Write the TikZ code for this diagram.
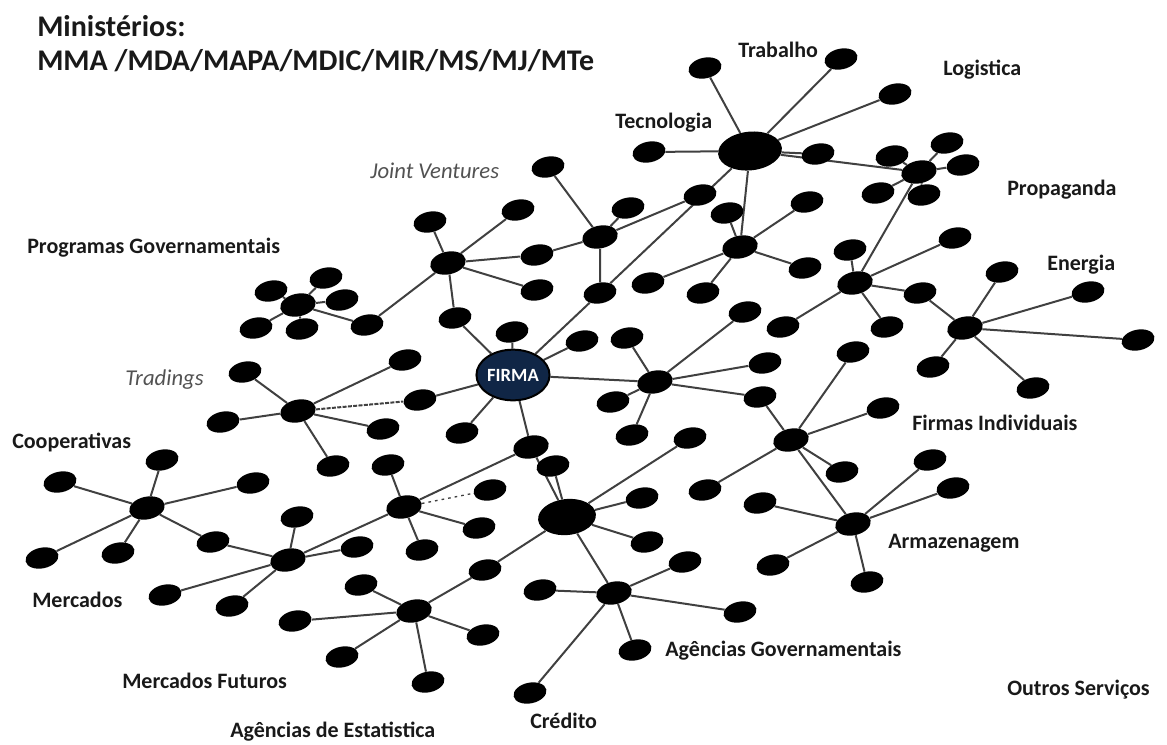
\documentclass[tikz,border=0pt]{standalone}
\usepackage{fontspec}
\setmainfont{Carlito}
\usetikzlibrary{shapes.geometric,backgrounds}

\definecolor{firmablue}{RGB}{16,38,70}
\tikzset{
  blob/.style={ellipse, fill=black, inner sep=0pt, minimum width=25pt, minimum height=15.5pt, rotate=12},
  hub/.style={blob, minimum width=27pt, minimum height=17pt},
  bighub/.style={ellipse, fill=black, inner sep=0pt, rotate=6},
  link/.style={draw=black!75, line width=1.5pt},
  lbl/.style={anchor=base west, inner sep=0pt, text=black!90, font=\bfseries\fontsize{16.5}{20}\selectfont},
  lblit/.style={lbl, text=black!68, font=\fontsize{17}{20}\selectfont\itshape},
}

\begin{document}
\begin{tikzpicture}[x=0.75pt,y=0.75pt,yscale=-1,xscale=1]
\useasboundingbox (0,0) rectangle (1167,744);

%Tecnologia
\node[bighub, minimum width=48pt, minimum height=29pt] (tec) at (750,151) {};
\node[blob] (tec1) at (705,68) {};
\node[blob] (tec2) at (841,59) {};
\node[blob] (tec3) at (895,94) {};
\node[blob] (tec4) at (818,154) {};
\node[blob] (tec5) at (649,152) {};
%Propaganda
\node[hub] (prop) at (919,172) {};
\node[blob] (prop1) at (892,156) {};
\node[blob] (prop2) at (947,143) {};
\node[blob] (prop3) at (963,165) {};
\node[blob] (prop4) at (878,193) {};
\node[blob] (prop5) at (924,195) {};
%hub under Tecnologia
\node[hub] (jvb) at (740,247) {};
\node[blob] (jvb1) at (727,213) {};
\node[blob] (jvb2) at (807,202) {};
\node[blob] (jvb3) at (805,268) {};
\node[blob] (jvb4) at (648,283) {};
\node[blob] (jvb5) at (703,293) {};
%hub before Energia
\node[hub] (enb) at (855,283) {};
\node[blob] (enb1) at (850,250) {};
\node[blob] (enb2) at (955,238) {};
\node[blob] (enb3) at (887,327) {};
\node[blob] (enb4) at (783,327) {};
\node[blob] (enb5) at (920,293) {};
%Energia
\node[hub] (ene) at (965,328) {};
\node[blob] (ene1) at (1002,272) {};
\node[blob] (ene2) at (1088,292) {};
\node[blob] (ene3) at (1138,340) {};
\node[blob] (ene4) at (933,367) {};
\node[blob] (ene5) at (1033,388) {};
%Joint Ventures
\node[hub] (jv) at (600,237) {};
\node[blob] (jv1) at (548,167) {};
\node[blob] (jv2) at (628,208) {};
\node[blob] (jv3) at (700,195) {};
\node[blob] (jv4) at (537,255) {};
\node[blob] (jvc) at (600,293) {};
%Programas Governamentais
\node[hub] (gov) at (448,263) {};
\node[blob] (gov1) at (430,222) {};
\node[blob] (gov2) at (518,210) {};
\node[blob] (gov3) at (537,290) {};
\node[blob] (gov4) at (455,318) {};
\node[blob] (gov5) at (367,325) {};
\node[hub] (prg) at (298,305) {};
\node[blob] (prg1) at (271,291) {};
\node[blob] (prg2) at (326,278) {};
\node[blob] (prg3) at (342,300) {};
\node[blob] (prg4) at (256,328) {};
\node[blob] (prg5) at (302,329) {};
%FIRMA
\node[ellipse, draw=black, line width=1.5pt, fill=firmablue, inner sep=0pt, minimum width=51pt, minimum height=38pt, text=white, font=\bfseries\fontsize{14}{16}\selectfont] (firma) at (513,375) {FIRMA};
\node[blob] (fir1) at (512,332) {};
\node[blob] (fir2) at (582,341) {};
\node[blob] (fir3) at (420,400) {};
\node[blob] (fir4) at (462,433) {};
%Tradings
\node[hub] (trd) at (298,411) {};
\node[blob] (trd1) at (245,372) {};
\node[blob] (trd2) at (223,422) {};
\node[blob] (trd3) at (405,360) {};
\node[blob] (trd4) at (383,429) {};
\node[blob] (trd5) at (333,466) {};
%hub right of FIRMA
\node[hub] (fih) at (655,382) {};
\node[blob] (fih1) at (627,338) {};
\node[blob] (fih2) at (745,312) {};
\node[blob] (fih3) at (765,363) {};
\node[blob] (fih4) at (613,402) {};
\node[blob] (fih5) at (632,435) {};
\node[blob] (fih6) at (760,397) {};
%Firmas Individuais
\node[hub] (fi) at (791,440) {};
\node[blob] (fi1) at (853,352) {};
\node[blob] (fi2) at (883,408) {};
\node[blob] (fi3) at (842,472) {};
\node[blob] (fi4) at (705,490) {};
%Armazenagem
\node[hub] (arm) at (853,524) {};
\node[blob] (arm1) at (760,503) {};
\node[blob] (arm2) at (930,460) {};
\node[blob] (arm3) at (953,488) {};
\node[blob] (arm4) at (773,565) {};
\node[blob] (arm5) at (867,582) {};
%Credito
\node[hub] (fsub) at (531,447) {};
\node[blob] (fsub2) at (553,466) {};
\node[bighub, minimum width=43.5pt, minimum height=27pt] (crd) at (567,517) {};
\node[blob] (crd1) at (690,438) {};
\node[blob] (crd2) at (642,498) {};
\node[blob] (crd3) at (647,542) {};
\node[blob] (crd4) at (485,570) {};
%Agencias Governamentais
\node[hub] (age) at (614,593) {};
\node[blob] (age1) at (540,590) {};
\node[blob] (age2) at (685,562) {};
\node[blob] (age3) at (740,612) {};
\node[blob] (age4) at (635,650) {};
\node[blob] (age5) at (530,693) {};
%hub with dotted link
\node[hub] (mid) at (404,507) {};
\node[blob] (mid1) at (388,465) {};
\node[blob] (mid2) at (490,490) {};
\node[blob] (mid3) at (479,528) {};
\node[blob] (mid4) at (422,550) {};
%Mercados
\node[hub] (mer) at (288,560) {};
\node[blob] (mer1) at (297,517) {};
\node[blob] (mer2) at (357,547) {};
\node[blob] (mer3) at (165,595) {};
\node[blob] (mer4) at (232,606) {};
\node[blob] (mer5) at (213,542) {};
%Cooperativas
\node[hub] (coop) at (147,508) {};
\node[blob] (coop1) at (60,482) {};
\node[blob] (coop2) at (162,460) {};
\node[blob] (coop3) at (253,483) {};
\node[blob] (coop4) at (42,558) {};
\node[blob] (coop5) at (118,553) {};
%Mercados Futuros
\node[hub] (fut) at (414,611) {};
\node[blob] (fut1) at (361,585) {};
\node[blob] (fut2) at (295,621) {};
\node[blob] (fut3) at (483,635) {};
\node[blob] (fut4) at (428,682) {};
\node[blob] (fut5) at (342,657) {};

%Links
\begin{scope}[on background layer]
\draw[link] (tec) -- (tec1) (tec) -- (tec2) (tec) -- (tec3) (tec) -- (tec4) (tec) -- (tec5) (tec) -- (prop) (tec) -- (jvc) (tec) -- (jvb);
\draw[link] (prop) -- (prop1) (prop) -- (prop2) (prop) -- (prop3) (prop) -- (prop4) (prop) -- (prop5) (prop) -- (enb);
\draw[link] (jvb) -- (jvb1) (jvb) -- (jvb2) (jvb) -- (jvb3) (jvb) -- (jvb4) (jvb) -- (jvb5);
\draw[link] (enb) -- (enb1) (enb) -- (enb2) (enb) -- (enb3) (enb) -- (enb4) (enb) -- (enb5) (enb5) -- (ene);
\draw[link] (ene) -- (ene1) (ene) -- (ene2) (ene) -- (ene3) (ene) -- (ene4) (ene) -- (ene5);
\draw[link] (jv) -- (jv1) (jv) -- (jv2) (jv) -- (jv3) (jv) -- (jv4) (jv) -- (jvc);
\draw[link] (gov) -- (jv4) (gov) -- (gov1) (gov) -- (gov2) (gov) -- (gov3) (gov) -- (gov4) (gov) -- (gov5) (gov5) -- (prg);
\draw[link] (prg) -- (prg1) (prg) -- (prg2) (prg) -- (prg3) (prg) -- (prg4) (prg) -- (prg5);
\draw[link] (firma) -- (gov4) (firma) -- (fir1) (firma) -- (fir2) (firma) -- (jvc) (firma) -- (fih) (firma) -- (fir3) (firma) -- (fir4) (firma) -- (fsub);
\draw[link] (trd) -- (trd1) (trd) -- (trd2) (trd) -- (trd3) (trd) -- (trd4) (trd) -- (trd5);
\draw[link, dash pattern=on 3pt off 1pt] (trd) -- (fir3);
\draw[link] (fih) -- (fih1) (fih) -- (fih2) (fih) -- (fih3) (fih) -- (fih4) (fih) -- (fih5) (fih) -- (fih6) (fih6) -- (fi);
\draw[link] (fi) -- (fi1) (fi) -- (fi2) (fi) -- (fi3) (fi) -- (fi4) (fi) -- (arm);
\draw[link] (arm) -- (arm1) (arm) -- (arm2) (arm) -- (arm3) (arm) -- (arm4) (arm) -- (arm5);
\draw[link] (fsub) -- (crd) (fsub2) -- (crd) (fsub) -- (mid);
\draw[link] (crd) -- (crd1) (crd) -- (crd2) (crd) -- (crd3) (crd) -- (crd4) (crd) -- (age) (crd4) -- (fut);
\draw[link] (age) -- (age1) (age) -- (age2) (age) -- (age3) (age) -- (age4) (age) -- (age5);
\draw[link] (mid) -- (mid1) (mid) -- (mid3) (mid) -- (mid4) (mid) -- (mer);
\draw[link, line width=1pt, dash pattern=on 2pt off 3pt] (mid) -- (mid2);
\draw[link] (mer) -- (mer1) (mer) -- (mer2) (mer) -- (mer3) (mer) -- (mer4) (mer) -- (mer5) (mer5) -- (coop);
\draw[link] (coop) -- (coop1) (coop) -- (coop2) (coop) -- (coop3) (coop) -- (coop4) (coop) -- (coop5);
\draw[link] (fut) -- (fut1) (fut) -- (fut2) (fut) -- (fut3) (fut) -- (fut4) (fut) -- (fut5);
\end{scope}

% Text Nodes
\node[lbl, font=\bfseries\fontsize{22.5}{26}\selectfont] (tmin) at (37,36) {Ministérios:};
\node[lbl, font=\bfseries\fontsize{22.5}{26}\selectfont] (tmin2) at (37,70) {MMA /MDA/MAPA/MDIC/MIR/MS/MJ/MTe};
\node[lbl] (ttrab) at (738,57) {Trabalho};
\node[lbl] (tlog) at (943,75) {Logistica};
\node[lbl] (ttec) at (615,128) {Tecnologia};
\node[lblit] (tjv) at (370,178) {Joint Ventures};
\node[lbl] (tprop) at (1007,195) {Propaganda};
\node[lbl] (tprg) at (27,253) {Programas Governamentais};
\node[lbl] (tene) at (1047,270) {Energia};
\node[lblit] (ttrd) at (125,385) {Tradings};
\node[lbl] (tfi) at (912,430) {Firmas Individuais};
\node[lbl] (tcoop) at (12,448) {Cooperativas};
\node[lbl] (tarm) at (888,548) {Armazenagem};
\node[lbl] (tmer) at (32,607) {Mercados};
\node[lbl] (tage) at (665,656) {Agências Governamentais};
\node[lbl] (tfut) at (122,688) {Mercados Futuros};
\node[lbl] (tout) at (1007,695) {Outros Serviços};
\node[lbl] (tcrd) at (530,728) {Crédito};
\node[lbl] (test) at (230,737) {Agências de Estatistica};
\end{tikzpicture}
\end{document}
